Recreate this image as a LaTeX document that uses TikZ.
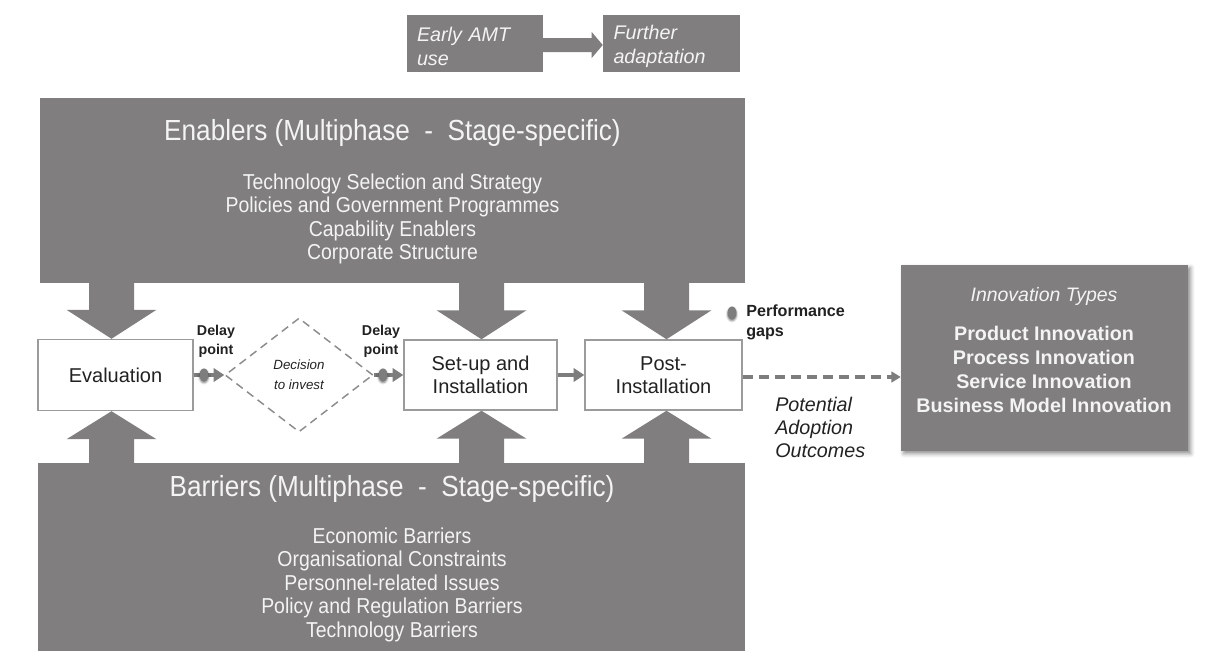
\documentclass[tikz,border=0pt]{standalone}
\usepackage{fontspec}
\setmainfont{Liberation Sans}
\newfontfamily\narrowsans[FakeStretch=0.9]{Liberation Sans}
\usetikzlibrary{shapes.geometric,arrows.meta,shadows.blur,calc}
\definecolor{boxgrey}{RGB}{128,126,127}
\definecolor{edgegrey}{RGB}{155,155,155}
\definecolor{darktext}{RGB}{34,34,34}
\definecolor{lighttext}{RGB}{244,244,244}
\definecolor{dashgrey}{RGB}{140,140,140}
\definecolor{flowgrey}{RGB}{125,125,125}
\tikzset{
  greybox/.style={fill=boxgrey, draw=none, inner sep=0pt, text=lighttext},
  topbox/.style={greybox, minimum height=57*0.75pt, text width=116*0.75pt, align=left,
    font=\itshape\fontsize{14.8pt}{18pt}\selectfont},
  stagebox/.style={draw=edgegrey, line width=1.1pt, fill=white, inner sep=0pt, text=darktext,
    align=center, minimum height=70*0.75pt, font=\fontsize{15pt}{17pt}\selectfont},
  bigtitle/.style={text=lighttext, inner sep=0pt, font=\narrowsans\fontsize{21.8pt}{24pt}\selectfont},
  listtext/.style={text=lighttext, inner sep=0pt, align=center, font=\narrowsans\fontsize{16.2pt}{17.6pt}\selectfont},
  delaytext/.style={text=darktext, inner sep=0pt, align=center, font=\bfseries\fontsize{10.7pt}{14pt}\selectfont},
  decisionbox/.style={diamond, draw=dashgrey, line width=1.1pt, dash pattern=on 6pt off 4pt,
    minimum width=148*0.75pt, minimum height=114*0.75pt, inner sep=0pt, align=center,
    text=darktext, font=\itshape\fontsize{10pt}{15pt}\selectfont},
  gapdot/.style={ellipse, fill=flowgrey, draw=none, minimum width=9*0.75pt, minimum height=13*0.75pt, inner sep=0pt,
    blur shadow={shadow xshift=0pt, shadow yshift=-1pt, shadow blur radius=1.5pt, shadow opacity=50}},
  flow/.style={draw=flowgrey, line width=3.4pt, -{Triangle[length=8pt,width=10pt]}},
  dashflow/.style={draw=flowgrey, line width=2.6pt, dash pattern=on 7.5pt off 4.5pt, -{Triangle[length=7pt,width=8pt]}},
  blockarrow/.style={fill=boxgrey, draw=none},
  sidetext/.style={inner sep=0pt, text=darktext, align=left},
}
\begin{document}
\begin{tikzpicture}[x=0.75pt,y=-0.75pt]
\useasboundingbox (0,0) rectangle (1209,653);

% top boxes
\node[greybox, minimum width=136*0.75pt, minimum height=57*0.75pt] (early) at (475,43.5) {};
\node[greybox, minimum width=137*0.75pt, minimum height=57*0.75pt] (further) at (671.5,43.5) {};
\node[topbox, fill=none, minimum height=0pt] (earlytext) at (475,46) {Early AMT\\use};
\node[topbox, fill=none, minimum height=0pt] (furthertext) at (671.5,46) {Further\\adaptation};
\fill[boxgrey] ($(early.east)+(-1,-5.5)$) -- ($(further.west)+(-11,-5.5)$) -- ($(further.west)+(-11,-11.5)$)
  -- ($(further.west)+(0,1.5)$) -- ($(further.west)+(-11,14.5)$) -- ($(further.west)+(-11,8.5)$)
  -- ($(early.east)+(-1,8.5)$) -- cycle;

% enablers and barriers
\node[greybox, minimum width=705*0.75pt, minimum height=185*0.75pt] (enablers) at (392.5,190.5) {};
\node[bigtitle] (entitle) at (392.5,133) {Enablers (Multiphase\ \ -\ \ Stage-specific)};
\node[listtext] (enlist) at (392.5,219) {Technology Selection and Strategy\\Policies and Government Programmes\\Capability Enablers\\Corporate Structure};

\node[greybox, minimum width=707*0.75pt, minimum height=188*0.75pt] (barriers) at (391.5,557) {};
\node[bigtitle] (batitle) at (392,489) {Barriers (Multiphase\ \ -\ \ Stage-specific)};
\node[listtext] (balist) at (392,584.5) {Economic Barriers\\Organisational Constraints\\Personnel-related Issues\\Policy and Regulation Barriers\\Technology Barriers};

% stage boxes
\node[stagebox, minimum width=155*0.75pt, minimum height=71*0.75pt] (eval) at (115.5,375) {Evaluation};
\node[decisionbox] (dec) at (299,375) {Decision\\to invest};
\node[stagebox, minimum width=153*0.75pt] (setup) at (480.5,375) {Set-up and\\Installation};
\node[stagebox, minimum width=157*0.75pt] (post) at (663.5,375) {Post-\\Installation};

% block arrows from enablers and barriers
\foreach \n/\dx in {eval/-4,setup/1,post/3}{
  \fill[boxgrey] ($(\n.north)+(\dx,0)$) -- ++(45,-29) -- ++(-22.5,0) -- ++(0,-29) -- ++(-45,0) -- ++(0,29) -- ++(-22.5,0) -- cycle;
  \fill[boxgrey] ($(\n.south)+(\dx,0)$) -- ++(45,28) -- ++(-22.5,0) -- ++(0,26) -- ++(-45,0) -- ++(0,-26) -- ++(-22.5,0) -- cycle;
}

% flow connectors
\draw[flow] (eval.east) -- (dec.west);
\node[gapdot] (dot1) at (204,375) {};
\draw[flow] (dec.east) -- (setup.west);
\node[gapdot] (dot2) at (383,375) {};
\draw[flow] (setup.east) -- (post.west);

\node[delaytext] (delay1) at (216,341.5) {Delay\\point};
\node[delaytext] (delay2) at (381,341.5) {Delay\\point};

% performance gaps
\node[gapdot] (dot3) at (732,313) {};
\node[sidetext, anchor=west, font=\bfseries\fontsize{12.1pt}{15pt}\selectfont] (perf) at (746,322) {Performance\\gaps};

% innovation types
\node[greybox, minimum width=287*0.75pt, minimum height=186*0.75pt,
  blur shadow={shadow xshift=2pt, shadow yshift=-2pt, shadow blur radius=3pt, shadow opacity=45}] (innov) at (1044.5,358) {};
\node[inner sep=0pt, text=lighttext, font=\itshape\fontsize{14.6pt}{17pt}\selectfont] (innovtitle) at (1044,296) {Innovation Types};
\node[inner sep=0pt, text=lighttext, align=center, font=\bfseries\fontsize{14.8pt}{17.8pt}\selectfont] (innovlist) at (1044,369.5)
  {Product Innovation\\Process Innovation\\Service Innovation\\Business Model Innovation};

\draw[dashflow] (post.east) ++(0,2) coordinate (poste) -- (poste -| innov.west);
\node[sidetext, anchor=west, font=\itshape\fontsize{14.8pt}{17pt}\selectfont] (outcomes) at (775,427.5) {Potential\\Adoption\\Outcomes};
\end{tikzpicture}
\end{document}
